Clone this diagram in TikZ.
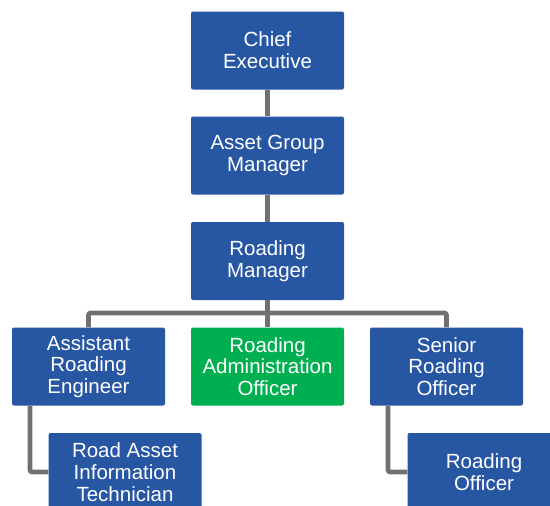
\documentclass[tikz,border=0pt]{standalone}
\usepackage{fontspec}
\setmainfont{Liberation Sans}
\usetikzlibrary{positioning}

\definecolor{boxblue}{HTML}{2756A3}
\definecolor{boxgreen}{HTML}{00B050}
\definecolor{linkgray}{HTML}{717171}

\tikzset{
  post/.style={draw=none, fill=boxblue, rounded corners=2pt, text=white,
    minimum width=153pt, minimum height=78pt, inner sep=0pt, align=center,
    font=\fontsize{20.5}{21.7}\selectfont},
  postgreen/.style={post, fill=boxgreen},
  link/.style={draw=linkgray, line width=4.6pt, rounded corners=2pt}
}

\begin{document}
\begin{tikzpicture}[x=1pt,y=-1pt]

  \clip (0,0) rectangle (550,506);
  \useasboundingbox (0,0) rectangle (550,506);

  % top of the chart
  \node[post] (chief)  at (267.5,50.5) {Chief\\Executive};
  \node[post] (asset)  at (267.5,155.5) {Asset Group\\Manager};
  \node[post] (roading) at (267.5,261) {Roading\\Manager};

  % second level
  \node[post]      (engineer) at (88.5,366.5)  {Assistant\\Roading\\Engineer};
  \node[postgreen] (admin)    at (267.5,366.5) {Roading\\Administration\\Officer};
  \node[post]      (senior)   at (446.5,366.5) {Senior\\Roading\\Officer};

  % third level
  \node[post] (tech)    at (125,472) {Road Asset\\Information\\Technician};
  \node[post] (officer) at (484,472) {Roading\\Officer};

  \coordinate (bar) at (267.5,313);

  % links
  \draw[link] (chief) -- (asset);
  \draw[link] (asset) -- (roading);
  \draw[link] (roading) -- (bar);
  \draw[link] (engineer.north) |- (bar) -| (senior.north);
  \draw[link] (bar) -- (admin.north);
  \draw[link] ([xshift=-58.5pt]engineer.south) |- (tech.west);
  \draw[link] ([xshift=-58.5pt]senior.south) |- (officer.west);

\end{tikzpicture}
\end{document}
